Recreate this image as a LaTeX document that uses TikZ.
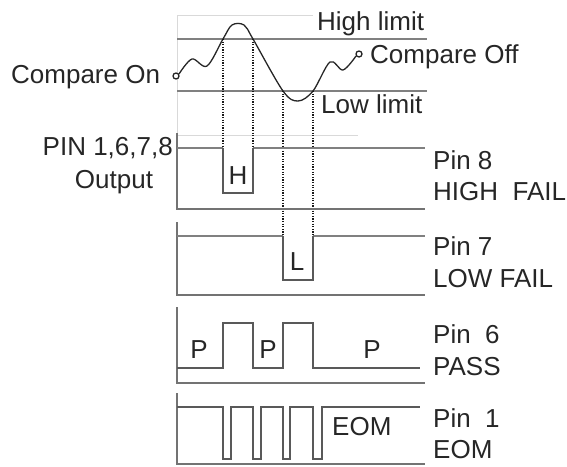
\documentclass[tikz,border=0pt]{standalone}
\usepackage{fontspec}
\setmainfont{Liberation Sans}
\usepackage{tikz}
\usetikzlibrary{positioning,calc}

\begin{document}
\begin{tikzpicture}[
    x=1pt, y=-1pt,
    font=\fontsize{26}{29}\selectfont,
    label/.style={inner sep=0pt, text=black!85},
    faint/.style={draw=black!15, line width=0.8pt},
    limit/.style={draw=black!50, line width=1.3pt},
    wave/.style={draw=black!85, line width=1.3pt},
    axis/.style={draw=black!55, line width=2.2pt},
    signal/.style={draw=black!50, line width=1.5pt},
    pulse/.style={draw=black!65, line width=1.1pt},
    guide/.style={draw=black!90, line width=1.2pt, dash pattern=on 1.2pt off 1.4pt}
]
\useasboundingbox (0,0) rectangle (567,466);

% Comparator window
\draw[faint] (177,15) -- (313,15);
\draw[faint] (177,15) -- (177,133);
\draw[faint] (177,135) -- (358,135);
\draw[limit] (177,39) -- (427,39);
\draw[limit] (177,91) -- (427,91);
\draw[wave] plot[smooth, tension=0.55] coordinates {(179,74) (192,59) (207,66) (223,39) (232,25) (244,25) (253,39) (283,91) (298,101) (313,91) (330,62) (343,70) (356,56)};
\draw[wave, fill=white] (176,76) circle (3);
\draw[wave, fill=white] (359,54) circle (3);

\node[label, anchor=base west] (high) at (317,30) {High limit};
\node[label, anchor=base west] (low) at (321,113) {Low limit};
\node[label, anchor=base west] (on) at (11,83) {Compare On};
\node[label, anchor=base west] (off) at (370,63) {Compare Off};

% Guide lines
\draw[guide] (223,39) -- (223,148);
\draw[guide] (253,39) -- (253,148);
\draw[guide] (283,91) -- (283,236);
\draw[guide] (313,91) -- (313,236);

\node[label, anchor=base east] (pins) at (173,155) {PIN 1,6,7,8};
\node[label, anchor=base] (output) at (114,188) {Output};

% Pin 8
\draw[axis] (177,133) -- (177,209) -- (425,209);
\draw[signal] (177,148) -- (223,148);
\draw[signal] (253,148) -- (425,148);
\draw[pulse] (223,148) -- (223,193) -- (253,193) -- (253,148);
\node[label] (hmark) at (238,176) {H};
\node[label, anchor=base west] (pin8) at (433,169) {Pin 8};
\node[label, anchor=base west] (hfail) at (433,200) {HIGH\ \ FAIL};

% Pin 7
\draw[axis] (177,222) -- (177,295) -- (425,295);
\draw[signal] (177,236) -- (283,236);
\draw[signal] (313,236) -- (425,236);
\draw[pulse] (283,236) -- (283,280) -- (313,280) -- (313,236);
\node[label] (lmark) at (297,262) {L};
\node[label, anchor=base west] (pin7) at (433,255) {Pin 7};
\node[label, anchor=base west] (lfail) at (433,287) {LOW FAIL};

% Pin 6
\draw[axis] (177,307) -- (177,383) -- (425,383);
\draw[pulse] (177,368) -- (223,368) -- (223,323) -- (253,323) -- (253,368) -- (283,368)
    -- (283,323) -- (313,323) -- (313,368) -- (420,368);
\node[label, anchor=base] (p1) at (199,358) {P};
\node[label, anchor=base] (p2) at (268,358) {P};
\node[label, anchor=base] (p3) at (372,358) {P};
\node[label, anchor=base west] (pin6) at (433,343) {Pin\ \ 6};
\node[label, anchor=base west] (pass) at (433,375) {PASS};

% Pin 1
\draw[axis] (177,393) -- (177,464) -- (425,464);
\draw[pulse] (177,407) -- (223,407) -- (223,459) -- (231,459) -- (231,407) -- (253,407)
    -- (253,459) -- (261,459) -- (261,407) -- (283,407) -- (283,459) -- (290,459)
    -- (290,407) -- (313,407) -- (313,459) -- (322,459) -- (322,407) -- (420,407);
\node[label, anchor=base west] (eomtag) at (332,435) {EOM};
\node[label, anchor=base west] (pin1) at (433,427) {Pin\ \ 1};
\node[label, anchor=base west] (eom) at (433,458) {EOM};

\end{tikzpicture}
\end{document}
